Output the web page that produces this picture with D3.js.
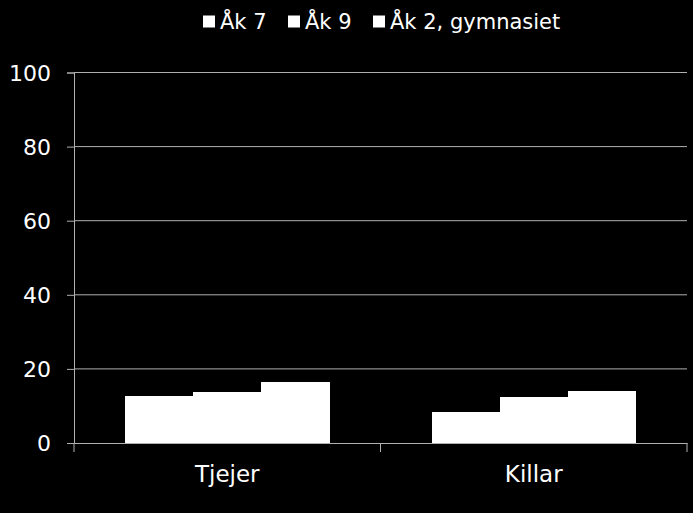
<!DOCTYPE html>
<html lang="sv">
<head>
<meta charset="utf-8">
<title>Tjejer / Killar</title>
<script src="https://d3js.org/d3.v7.min.js"></script>
<style>
  body { margin: 0; background: #000; }
  text { font-family: "DejaVu Sans", Verdana, sans-serif; fill: #fff; }
</style>
</head>
<body>
<script>
// data
const categories = ["Tjejer", "Killar"];
const seriesNames = ["Åk 7", "Åk 9", "Åk 2, gymnasiet"];
const ak7 = [12.7, 8.3];
const ak9 = [13.9, 12.4];
const ak2 = [16.5, 14.1];
const yTicks = [0, 20, 40, 60, 80, 100];

const W = 693, H = 513;
const margin = {left: 74, right: 6, top: 72.5, bottom: 70};
const gridColor = "#b0b0b0";

const svg = d3.select("body").append("svg")
    .attr("width", W)
    .attr("height", H);

svg.append("rect").attr("width", W).attr("height", H).attr("fill", "#000");

const x = d3.scaleBand()
    .domain(categories)
    .range([margin.left, W - margin.right])
    .paddingInner(0).paddingOuter(0);

const inner = d3.scaleBand()
    .domain(seriesNames)
    .range([0, x.bandwidth()])
    .paddingOuter(0.75).paddingInner(0);

const y = d3.scaleLinear()
    .domain([0, 100])
    .range([H - margin.bottom, margin.top]);

// gridlines
svg.append("g")
  .selectAll("line")
  .data(yTicks.filter(d => d > 0))
  .join("line")
    .attr("x1", margin.left)
    .attr("x2", W - margin.right)
    .attr("y1", d => y(d))
    .attr("y2", d => y(d))
    .attr("stroke", gridColor)
    .attr("stroke-width", 1);

// bars
const series = [ak7, ak9, ak2];
const rows = [];
categories.forEach((c, i) => {
  seriesNames.forEach((s, j) => rows.push({cat: c, s: s, v: series[j][i]}));
});

svg.append("g")
    .attr("shape-rendering", "crispEdges")
  .selectAll("rect")
  .data(rows)
  .join("rect")
    .attr("x", d => x(d.cat) + inner(d.s))
    .attr("y", d => y(d.v))
    .attr("width", inner.bandwidth() + 0.5)
    .attr("height", d => y(0) - y(d.v))
    .attr("fill", "#fff");

// y axis
const yAxis = svg.append("g")
    .attr("transform", "translate(" + margin.left + ",0)")
    .call(d3.axisLeft(y).tickValues(yTicks).tickSize(7).tickPadding(16));
yAxis.select(".domain").attr("stroke", gridColor);
yAxis.selectAll(".tick line").attr("stroke", gridColor);
yAxis.selectAll(".tick text")
    .attr("fill", "#fff")
    .style("font-size", "22px")
    .attr("dy", "0.36em");

// x axis
const xAxis = svg.append("g")
    .attr("transform", "translate(0," + y(0) + ")")
    .call(d3.axisBottom(x).tickSize(0).tickPadding(23));
xAxis.select(".domain").attr("stroke", gridColor);
xAxis.selectAll(".tick text")
    .attr("fill", "#fff")
    .style("font-size", "23px");

// category separators below the axis
const edges = [margin.left, margin.left + x.bandwidth(), W - margin.right];
svg.append("g")
  .selectAll("line")
  .data(edges)
  .join("line")
    .attr("x1", d => d).attr("x2", d => d)
    .attr("y1", y(0)).attr("y2", y(0) + 9)
    .attr("stroke", gridColor);

// legend
const legendX = [203, 288, 373];
const legend = svg.append("g");
seriesNames.forEach((s, i) => {
  legend.append("rect")
    .attr("x", legendX[i])
    .attr("y", 15.5)
    .attr("width", 12)
    .attr("height", 12)
    .attr("fill", "#fff");
  legend.append("text")
    .attr("x", legendX[i] + 17)
    .attr("y", 29)
    .style("font-size", "21px")
    .text(s);
});
</script>
</body>
</html>
